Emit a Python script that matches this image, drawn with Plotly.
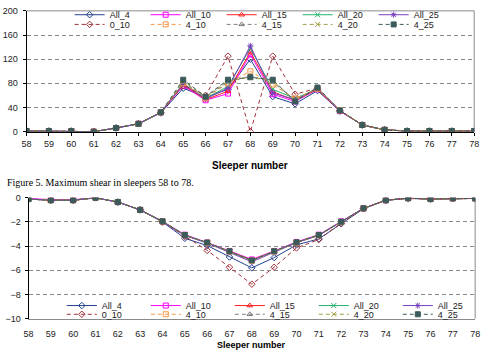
import plotly.graph_objects as go

W, H = 487, 355

sleepers = list(range(58, 79))
series_names = ["All_4", "All_10", "All_15", "All_20", "All_25",
                "0_10", "4_10", "4_15", "4_20", "4_25"]

# ---- Top chart: maximum shear ----
shear_All_4 = [1, 1, 1, 0, 6, 13, 31, 72, 57, 70, 120, 58, 46, 68, 34, 11, 3, 1, 1, 1, 1]
shear_All_10 = [1, 1, 1, 0, 6, 13, 32, 76, 52, 63, 128, 62, 50, 70, 34, 11, 3, 1, 1, 1, 1]
shear_All_15 = [1, 1, 1, 0, 6, 13, 32, 78, 53, 67, 132, 66, 52, 70, 35, 11, 3, 1, 1, 1, 1]
shear_All_20 = [1, 1, 1, 0, 6, 13, 32, 80, 55, 75, 138, 70, 55, 71, 35, 11, 3, 1, 1, 1, 1]
shear_All_25 = [1, 1, 1, 0, 6, 13, 32, 79, 54, 72, 142, 64, 53, 71, 35, 11, 3, 1, 1, 1, 1]
shear_0_10 = [1, 1, 1, 0, 6, 13, 32, 76, 60, 125, 0, 125, 62, 72, 35, 11, 3, 1, 1, 1, 1]
shear_4_10 = [1, 1, 1, 0, 6, 13, 32, 80, 56, 80, 100, 78, 55, 71, 35, 11, 3, 1, 1, 1, 1]
shear_4_15 = [1, 1, 1, 0, 6, 13, 32, 82, 57, 82, 92, 82, 52, 72, 35, 11, 3, 1, 1, 1, 1]
shear_4_20 = [1, 1, 1, 0, 6, 13, 32, 84, 58, 84, 90, 84, 52, 72, 35, 11, 3, 1, 1, 1, 1]
shear_4_25 = [1, 1, 1, 0, 6, 13, 32, 86, 58, 86, 90, 86, 50, 73, 35, 11, 3, 1, 1, 1, 1]

# ---- Bottom chart ----
bot_All_4 = [-0.1, -0.2, -0.2, 0, -0.35, -1.0, -2.0, -3.35, -3.95, -4.9, -5.8, -4.95, -3.9, -3.4, -2.15, -0.9, -0.2, -0.05, -0.1, -0.05, -0.05]
bot_All_10 = [-0.05, -0.15, -0.15, 0, -0.35, -1.0, -1.95, -3.05, -3.7, -4.4, -5.1, -4.4, -3.65, -3.05, -1.95, -0.87, -0.2, -0.03, -0.08, -0.05, -0.05]
bot_All_15 = [-0.1, -0.2, -0.2, 0, -0.35, -1.0, -1.95, -3.1, -3.72, -4.45, -5.15, -4.45, -3.7, -3.1, -2.0, -0.87, -0.2, -0.03, -0.1, -0.05, -0.05]
bot_All_20 = [-0.1, -0.2, -0.2, 0, -0.35, -1.0, -1.95, -3.1, -3.72, -4.45, -5.2, -4.45, -3.7, -3.1, -2.0, -0.87, -0.2, -0.03, -0.1, -0.05, -0.05]
bot_All_25 = [-0.1, -0.2, -0.2, 0, -0.35, -1.0, -1.97, -3.12, -3.75, -4.5, -5.3, -4.5, -3.72, -3.1, -2.0, -0.87, -0.2, -0.03, -0.1, -0.05, -0.05]
bot_0_10 = [-0.1, -0.2, -0.2, 0, -0.35, -1.0, -2.0, -3.2, -4.35, -5.75, -7.15, -5.75, -4.15, -3.45, -2.1, -0.9, -0.2, -0.05, -0.1, -0.05, -0.05]
bot_4_10 = [-0.1, -0.2, -0.2, 0, -0.35, -1.0, -1.95, -3.1, -3.72, -4.45, -5.2, -4.45, -3.7, -3.1, -2.0, -0.87, -0.2, -0.03, -0.1, -0.05, -0.05]
bot_4_15 = [-0.1, -0.2, -0.2, 0, -0.35, -1.0, -1.95, -3.1, -3.72, -4.45, -5.2, -4.45, -3.7, -3.1, -2.0, -0.87, -0.2, -0.03, -0.1, -0.05, -0.05]
bot_4_20 = [-0.1, -0.2, -0.2, 0, -0.35, -1.0, -1.95, -3.1, -3.72, -4.45, -5.2, -4.45, -3.7, -3.1, -2.0, -0.87, -0.2, -0.03, -0.1, -0.05, -0.05]
bot_4_25 = [-0.1, -0.2, -0.2, 0, -0.35, -1.0, -1.95, -3.08, -3.7, -4.42, -5.18, -4.42, -3.68, -3.08, -1.98, -0.87, -0.2, -0.03, -0.1, -0.05, -0.05]

top_values = [shear_All_4, shear_All_10, shear_All_15, shear_All_20, shear_All_25,
              shear_0_10, shear_4_10, shear_4_15, shear_4_20, shear_4_25]
bot_values = [bot_All_4, bot_All_10, bot_All_15, bot_All_20, bot_All_25,
              bot_0_10, bot_4_10, bot_4_15, bot_4_20, bot_4_25]

colors = ["#22408E", "#FF00FF", "#FF2020", "#22B26B", "#7A3FBF",
          "#A0303A", "#F79646", "#808080", "#A0A040", "#3B5B5B"]
symbols = ["diamond-open", "square-open", "triangle-up-open", "x-thin-open", "asterisk-open",
           "diamond-open", "square-open", "triangle-up-open", "x-thin-open", "square"]
sizes = [5, 5, 5, 5, 5, 5, 5, 5, 5, 5]
dashes = ["solid"] * 5 + ["4px,3px"] * 5

FONT = "Liberation Sans, Arial, sans-serif"
TEXT = "#222222"


def py(p):
    return 1 - p / H


fig = go.Figure()

for i, name in enumerate(series_names):
    fig.add_trace(go.Scatter(
        x=sleepers, y=top_values[i], name=name, mode="lines+markers",
        line=dict(color=colors[i], width=1, dash=dashes[i]),
        marker=dict(symbol=symbols[i], size=sizes[i], color=colors[i],
                    line=dict(color=colors[i], width=1)),
        xaxis="x", yaxis="y",
        legend="legend" if i < 5 else "legend2",
    ))

for i, name in enumerate(series_names):
    fig.add_trace(go.Scatter(
        x=sleepers, y=bot_values[i], name=name, mode="lines+markers",
        line=dict(color=colors[i], width=1, dash=dashes[i]),
        marker=dict(symbol=symbols[i], size=sizes[i], color=colors[i],
                    line=dict(color=colors[i], width=1)),
        xaxis="x2", yaxis="y2",
        legend="legend3" if i < 5 else "legend4",
    ))

tickfont = dict(family=FONT, size=9, color=TEXT)
legfont = dict(family=FONT, size=9, color=TEXT)

common_leg = dict(orientation="h", bgcolor="rgba(0,0,0,0)", font=legfont,
                  xanchor="left", yanchor="middle", borderwidth=0,
                  itemwidth=30, tracegroupgap=0)

fig.update_layout(
    width=W, height=H,
    margin=dict(l=0, r=0, t=0, b=0),
    paper_bgcolor="white", plot_bgcolor="white",
    font=dict(family=FONT, size=9, color=TEXT),
    xaxis=dict(domain=[22 / W, 479 / W], range=[58, 78], anchor="y",
               tickvals=sleepers, showline=True, linecolor="black", linewidth=1,
               ticks="outside", ticklen=3, tickcolor="black",
               showgrid=False, zeroline=False, tickfont=tickfont,
               ticklabelstandoff=1),
    yaxis=dict(domain=[py(129), py(4)], range=[0, 200], dtick=40, anchor="x",
               showline=True, linecolor="black", linewidth=1,
               ticks="outside", ticklen=3, tickcolor="black",
               showgrid=True, gridcolor="#8a8a8a", griddash="4px,3px", gridwidth=1,
               zeroline=False, tickfont=tickfont, ticklabelstandoff=3),
    xaxis2=dict(domain=[24 / W, 480 / W], range=[58, 78], anchor="y2",
                tickvals=sleepers, showline=True, linecolor="#8a8a8a", linewidth=1,
                ticks="", showgrid=False, zeroline=False, tickfont=tickfont,
                ticklabelstandoff=7),
    xaxis3=dict(range=[58, 78], overlaying="x2", anchor="y2", side="top",
                tickvals=sleepers, showline=True, linecolor="black", linewidth=1,
                ticks="outside", ticklen=4, tickcolor="black",
                showticklabels=False, showgrid=False, zeroline=False),
    yaxis2=dict(domain=[py(322.5), py(197.5)], range=[-10, 0], dtick=2, anchor="x2",
                showline=True, linecolor="black", linewidth=1,
                ticks="outside", ticklen=3, tickcolor="black",
                showgrid=True, gridcolor="#8a8a8a", griddash="4px,3px", gridwidth=1,
                zeroline=False, tickfont=tickfont, ticklabelstandoff=2),
    legend=dict(x=66 / W, y=py(8), entrywidth=31, **common_leg),
    legend2=dict(x=66 / W, y=py(18), entrywidth=31, **common_leg),
    legend3=dict(x=58 / W, y=py(309), entrywidth=39, **common_leg),
    legend4=dict(x=58 / W, y=py(318), entrywidth=39, **common_leg),
    showlegend=True,
)

# plot-area borders (gray) on the non-axis sides
border = dict(color="#8a8a8a", width=1)
fig.add_shape(type="line", xref="x domain", yref="y domain", x0=0, x1=1, y0=1, y1=1, line=border, layer="below")
fig.add_shape(type="line", xref="x domain", yref="y domain", x0=1, x1=1, y0=0, y1=1, line=border, layer="below")
fig.add_shape(type="line", xref="x2 domain", yref="y2 domain", x0=1, x1=1, y0=0, y1=1, line=border, layer="below")

# axis titles and caption
fig.add_annotation(text="<b>Sleeper number</b>", xref="paper", yref="paper",
                   x=250.5 / W, y=py(164), showarrow=False,
                   font=dict(family=FONT, size=10, color="black"),
                   xanchor="center", yanchor="middle")
fig.add_annotation(text="<b>Sleeper number</b>", xref="paper", yref="paper",
                   x=252 / W, y=py(349.5), showarrow=False,
                   font=dict(family=FONT, size=9, color="black"),
                   xanchor="center", yanchor="middle")
fig.add_annotation(text="Figure 5. Maximum shear in sleepers 58 to 78.", xref="paper", yref="paper",
                   x=0, y=py(182), showarrow=False,
                   font=dict(family="Liberation Serif, Times New Roman, serif", size=10, color="black"),
                   xanchor="left", yanchor="middle")

fig.write_html("out.html")
